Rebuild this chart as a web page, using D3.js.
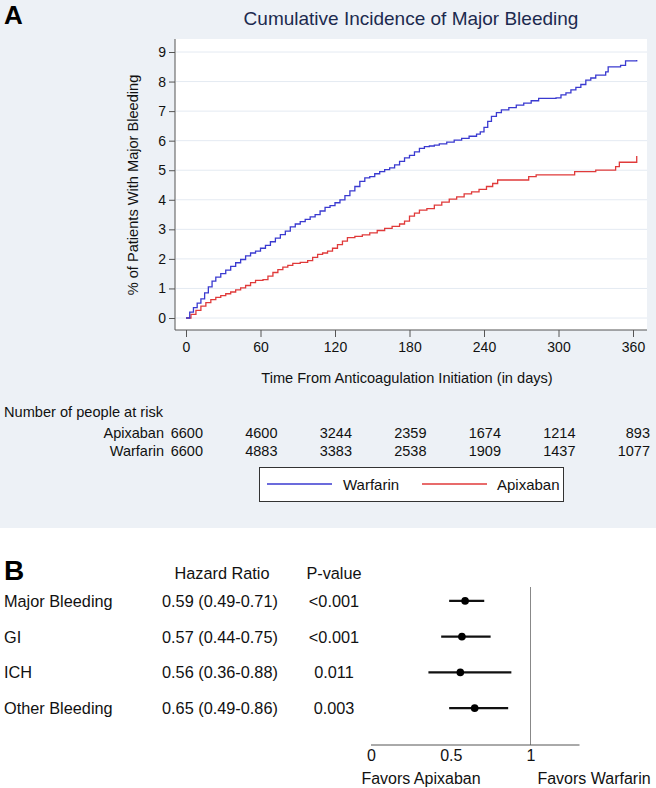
<!DOCTYPE html>
<html>
<head>
<meta charset="utf-8">
<script src="https://cdn.jsdelivr.net/npm/d3@7"></script>
<style>
html,body{margin:0;padding:0;background:#fff;}
svg{display:block;font-family:"Liberation Sans",Arial,sans-serif;}
</style>
</head>
<body>
<svg id="chart" width="656" height="788"></svg>
<script>
// ---------- DATA ----------
const xTicks = [0, 60, 120, 180, 240, 300, 360];
const yTicks = [0, 1, 2, 3, 4, 5, 6, 7, 8, 9];

const warfarinDays = [0,3,6,9,12,15,18,21,24,28,32,36,40,44,48,52,56,60,64,68,72,76,80,84,88,92,96,100,104,108,112,116,120,124,128,132,136,140,144,148,152,156,160,164,168,172,176,180,184,188,192,196,200,204,210,216,222,228,234,237,240,243,246,250,254,260,266,272,278,284,298,302,306,310,314,318,322,326,330,338,340,350,354,363];
const warfarinPct  = [0,0.2,0.35,0.5,0.65,0.85,1.05,1.25,1.38,1.5,1.62,1.75,1.87,1.98,2.1,2.2,2.26,2.36,2.46,2.58,2.7,2.82,2.94,3.08,3.18,3.26,3.34,3.42,3.5,3.62,3.74,3.8,3.9,4.0,4.14,4.3,4.45,4.62,4.74,4.78,4.88,4.95,5.02,5.08,5.18,5.3,5.42,5.5,5.62,5.74,5.8,5.82,5.85,5.89,5.95,6.02,6.08,6.15,6.22,6.3,6.45,6.65,6.82,6.95,7.04,7.12,7.2,7.27,7.35,7.43,7.45,7.55,7.62,7.72,7.8,7.9,8.05,8.12,8.22,8.33,8.5,8.55,8.7,8.73];

const apixabanDays = [0,4,8,12,16,20,24,28,32,36,40,44,48,52,56,62,66,70,74,78,82,86,92,98,102,106,110,114,118,122,126,130,136,142,148,154,160,166,172,176,180,184,188,194,200,206,212,218,224,230,236,242,247,251,276,282,313,330,346,349,363];
const apixabanPct  = [0,0.12,0.26,0.4,0.52,0.62,0.7,0.76,0.82,0.88,0.95,1.02,1.1,1.2,1.27,1.3,1.42,1.54,1.64,1.72,1.78,1.85,1.88,1.94,2.05,2.15,2.2,2.26,2.36,2.48,2.6,2.72,2.76,2.81,2.88,2.96,3.03,3.1,3.18,3.28,3.45,3.55,3.65,3.7,3.82,3.92,4.02,4.1,4.2,4.27,4.35,4.45,4.55,4.67,4.78,4.84,4.95,5.0,5.12,5.27,5.48];

const riskGroups   = ["Apixaban", "Warfarin"];
const apixabanRisk = [6600, 4600, 3244, 2359, 1674, 1214, 893];
const warfarinRisk = [6600, 4883, 3383, 2538, 1909, 1437, 1077];

const outcomes = ["Major Bleeding", "GI", "ICH", "Other Bleeding"];
const hrValues = [0.59, 0.57, 0.56, 0.65];
const hrLow    = [0.49, 0.44, 0.36, 0.49];
const hrHigh   = [0.71, 0.75, 0.88, 0.86];
const hrText   = ["0.59 (0.49-0.71)", "0.57 (0.44-0.75)", "0.56 (0.36-0.88)", "0.65 (0.49-0.86)"];
const pText    = ["<0.001", "<0.001", "0.011", "0.003"];
const forestTicks = [0, 0.5, 1];

// ---------- DRAW ----------
const svg = d3.select("#chart");
const blue = "#3a3ad0", red = "#e03a3a";

// Panel A background
svg.append("rect").attr("x",0).attr("y",0).attr("width",656).attr("height",528).attr("fill","#edf1f6");
svg.append("text").attr("x",4).attr("y",24).attr("font-size",26).attr("font-weight","bold").attr("fill","#000").text("A");
svg.append("text").attr("x",411).attr("y",25).attr("text-anchor","middle").attr("font-size",19).attr("fill","#1c2a4e")
  .text("Cumulative Incidence of Major Bleeding");

const x = d3.scaleLinear().domain([0,360]).range([186,633]);
const y = d3.scaleLinear().domain([0,9]).range([318,52]);

// plot region
svg.append("rect").attr("x",175).attr("y",39).attr("width",472).attr("height",291).attr("fill","#fff");
// gridlines
svg.append("g").selectAll("line").data(yTicks).join("line")
  .attr("x1",176).attr("x2",647).attr("y1",d=>y(d)).attr("y2",d=>y(d))
  .attr("stroke","#e4eaf2").attr("stroke-width",1);

// axes
const yAxis = d3.axisLeft(y).tickValues(yTicks).tickSize(6).tickPadding(3);
const gy = svg.append("g").attr("transform","translate(175,0)").call(yAxis);
gy.select(".domain").attr("d","M0,39V330").attr("stroke","#555");
gy.selectAll(".tick line").attr("stroke","#555");
gy.selectAll(".tick text").attr("font-size",14).attr("fill","#111").attr("font-family","Liberation Sans, Arial, sans-serif");

const xAxis = d3.axisBottom(x).tickValues(xTicks).tickSize(7).tickPadding(5);
const gx = svg.append("g").attr("transform","translate(0,330)").call(xAxis);
gx.select(".domain").attr("d","M175,0H647").attr("stroke","#555");
gx.selectAll(".tick line").attr("stroke","#555");
gx.selectAll(".tick text").attr("font-size",14).attr("fill","#111").attr("font-family","Liberation Sans, Arial, sans-serif");

svg.append("text").attr("x",407).attr("y",383).attr("text-anchor","middle").attr("font-size",14.6).attr("fill","#111")
  .text("Time From Anticoagulation Initiation (in days)");
svg.append("text").attr("transform","translate(138,185) rotate(-90)").attr("text-anchor","middle").attr("font-size",14.6).attr("fill","#111")
  .text("% of Patients With Major Bleeding");

// curves
const line = d3.line().curve(d3.curveStepAfter).x(d=>x(d[0])).y(d=>y(d[1]));
svg.append("path").datum(d3.zip(apixabanDays, apixabanPct)).attr("d",line)
  .attr("fill","none").attr("stroke",red).attr("stroke-width",1.3);
svg.append("path").datum(d3.zip(warfarinDays, warfarinPct)).attr("d",line)
  .attr("fill","none").attr("stroke",blue).attr("stroke-width",1.3);

// risk table
svg.append("text").attr("x",4).attr("y",417).attr("font-size",14.6).attr("fill","#111").text("Number of people at risk");
const riskRows = [apixabanRisk, warfarinRisk];
const rowY = [438, 456];
riskGroups.forEach((g,i)=>{
  svg.append("text").attr("x",164).attr("y",rowY[i]).attr("text-anchor","end").attr("font-size",14.5).attr("fill","#111").text(g);
  svg.append("g").selectAll("text").data(riskRows[i]).join("text")
    .attr("x",(d,j)=>x(xTicks[j])+17).attr("y",rowY[i]).attr("text-anchor","end")
    .attr("font-size",14.5).attr("fill","#111").text(d=>d);
});

// legend
svg.append("rect").attr("x",259.5).attr("y",467.5).attr("width",304).attr("height",34).attr("fill","#fff").attr("stroke","#333").attr("stroke-width",1);
svg.append("line").attr("x1",267).attr("x2",332).attr("y1",484).attr("y2",484).attr("stroke",blue).attr("stroke-width",1.3);
svg.append("text").attr("x",343).attr("y",489.5).attr("font-size",15).attr("fill","#111").text("Warfarin");
svg.append("line").attr("x1",422).attr("x2",487).attr("y1",484).attr("y2",484).attr("stroke",red).attr("stroke-width",1.3);
svg.append("text").attr("x",497).attr("y",489.5).attr("font-size",15).attr("fill","#111").text("Apixaban");

// ---------- Panel B ----------
svg.append("text").attr("x",4).attr("y",580).attr("font-size",28).attr("font-weight","bold").attr("fill","#000").text("B");
svg.append("text").attr("x",222).attr("y",579).attr("text-anchor","middle").attr("font-size",16.3).attr("fill","#111").text("Hazard Ratio");
svg.append("text").attr("x",334).attr("y",579).attr("text-anchor","middle").attr("font-size",16.3).attr("fill","#111").text("P-value");

const rowCenters = d3.scaleBand().domain(outcomes).range([583,726]).paddingInner(0).paddingOuter(0);
const rc = d => rowCenters(d) + rowCenters.bandwidth()/2;
const fx = d3.scaleLinear().domain([0,1]).range([371,530.5]);

const rows = svg.append("g").selectAll("g").data(outcomes).join("g");
rows.append("text").attr("x",4).attr("y",d=>rc(d)+6).attr("font-size",16.3).attr("fill","#111").text(d=>d);
rows.append("text").attr("x",162).attr("y",d=>rc(d)+6).attr("font-size",16.3).attr("fill","#111").text((d,i)=>hrText[i]);
rows.append("text").attr("x",334).attr("y",d=>rc(d)+6).attr("text-anchor","middle").attr("font-size",16.3).attr("fill","#111").text((d,i)=>pText[i]);

// reference line at 1
svg.append("line").attr("x1",fx(1)).attr("x2",fx(1)).attr("y1",587).attr("y2",745).attr("stroke","#888").attr("stroke-width",1);
// CI lines & points
rows.append("line").attr("x1",(d,i)=>fx(hrLow[i])).attr("x2",(d,i)=>fx(hrHigh[i]))
  .attr("y1",d=>rc(d)).attr("y2",d=>rc(d)).attr("stroke","#111").attr("stroke-width",2.2);
rows.append("circle").attr("cx",(d,i)=>fx(hrValues[i])).attr("cy",d=>rc(d)).attr("r",3.8).attr("fill","#000");

// forest axis
const fAxis = d3.axisBottom(fx).tickValues(forestTicks).tickFormat(d3.format("")).tickSize(0).tickPadding(5);
const gf = svg.append("g").attr("transform","translate(0,745)").call(fAxis);
gf.select(".domain").attr("d","M371,0H579.5").attr("stroke","#555");
gf.selectAll(".tick text").attr("font-size",16).attr("fill","#111").attr("font-family","Liberation Sans, Arial, sans-serif");

svg.append("text").attr("x",421).attr("y",784).attr("text-anchor","middle").attr("font-size",16).attr("fill","#111").text("Favors Apixaban");
svg.append("text").attr("x",594).attr("y",784).attr("text-anchor","middle").attr("font-size",16).attr("fill","#111").text("Favors Warfarin");
</script>
</body>
</html>
